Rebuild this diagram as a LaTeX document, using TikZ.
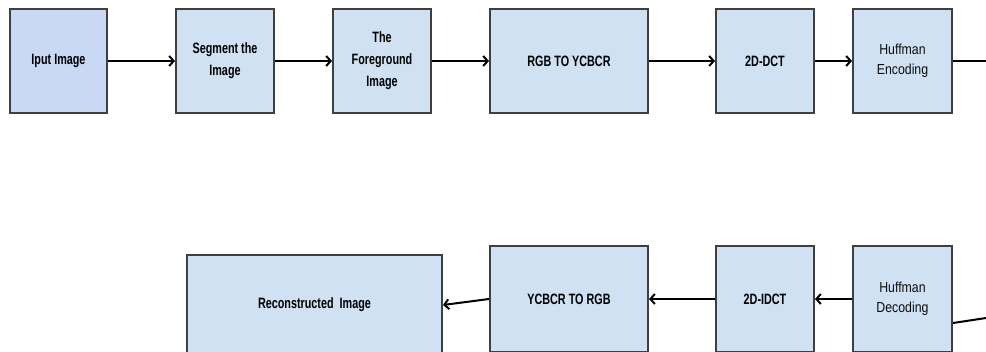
\documentclass[tikz,border=0pt]{standalone}
\usepackage{fontspec}
\setmainfont{Liberation Sans}
\newfontfamily\boxfont[FakeStretch=0.72]{Liberation Sans}
\newfontfamily\codefont[FakeStretch=0.85]{Liberation Sans}
\usepackage{xcolor}
\usetikzlibrary{arrows.meta}

\definecolor{boxfill}{HTML}{CFE1F3}
\definecolor{inputfill}{HTML}{C9D8F5}
\definecolor{boxline}{HTML}{3F3F3F}

\tikzset{
  block/.style={draw=boxline, line width=2pt, fill=boxfill, inner sep=2pt,
    align=center, text=black, font=\boxfont\bfseries\fontsize{15}{22}\selectfont},
  codebox/.style={block, font=\codefont\fontsize{14.5}{19.5}\selectfont, text=black!95},
  flow/.style={line width=2pt, -{Straight Barb[length=4.5pt,width=10pt]}},
  plain/.style={line width=2pt},
}

\begin{document}
\begin{tikzpicture}[x=1pt,y=-1pt]
        \useasboundingbox (0,0) rectangle (986,351);
        \clip (0,0) rectangle (986,351);
        % compression
        \node[block, fill=inputfill, minimum width=97pt, minimum height=104pt] (input) at (58.5,61) {Iput Image};
        \node[block, minimum width=98pt, minimum height=104pt] (segment) at (225,61) {Segment the\\Image};
        \node[block, minimum width=98pt, minimum height=104pt] (fore) at (382,61) {The\\Foreground\\Image};
        \node[block, minimum width=158pt, minimum height=104pt] (rgbycc) at (569,61) {RGB TO YCBCR};
        \node[block, minimum width=98pt, minimum height=104pt] (dct) at (765,61) {2D-DCT};
        \node[codebox, minimum width=99pt, minimum height=104pt] (enc) at (902.5,61) {Huffman\\Encoding};
        \coordinate (encout) at (986,61);
        % decompression
        \node[codebox, minimum width=99pt, minimum height=106pt] (dec) at (902.5,299) {Huffman\\Decoding};
        \node[block, minimum width=98pt, minimum height=106pt] (idct) at (765,299) {2D-IDCT};
        \node[block, minimum width=158pt, minimum height=106pt] (yccrgb) at (569,299) {YCBCR TO RGB};
        \node[block, minimum width=255pt, minimum height=100pt] (recon) at (314.5,305) {Reconstructed\ \ Image};
        \coordinate (decin) at (986,318);

        \draw[flow] (input) -- (segment);
        \draw[flow] (segment) -- (fore);
        \draw[flow] (fore) -- (rgbycc);
        \draw[flow] (rgbycc) -- (dct);
        \draw[flow] (dct) -- (enc);
        \draw[plain] (enc.east) -- (encout);
        \draw[plain] (decin) -- ([yshift=-24pt]dec.east);
        \draw[flow] (dec) -- (idct);
        \draw[flow] (idct) -- (yccrgb);
        \draw[flow] (yccrgb.west) -- (recon.east);
    \end{tikzpicture}
\end{document}
